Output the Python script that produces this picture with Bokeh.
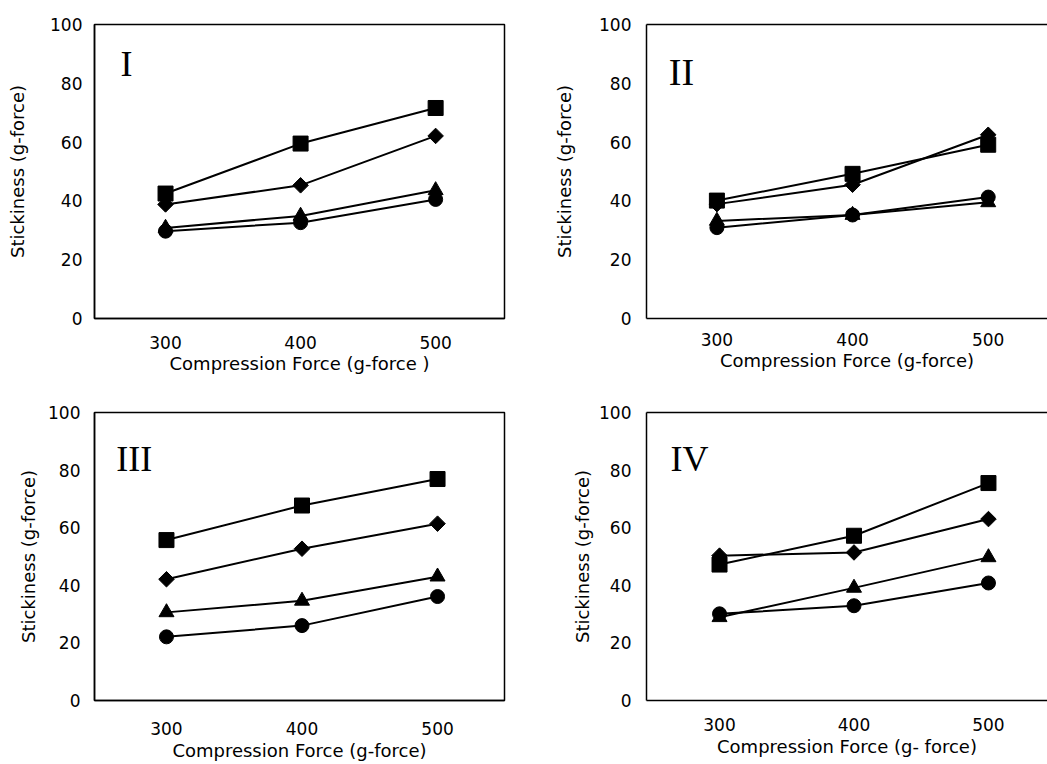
import numpy as np
from bokeh.plotting import figure
from bokeh.layouts import column, row
from bokeh.models import Label, LinearAxis, FixedTicker, Range1d
from bokeh.embed import file_html
from bokeh.resources import INLINE

# ---- data ----
force = [300, 400, 500]
x_ticks = [300, 400, 500]
y_ticks = [0, 20, 40, 60, 80, 100]
panel_names = ["I", "II", "III", "IV"]
x_title = ["Compression Force (g-force )", "Compression Force (g-force)",
           "Compression Force (g-force)", "Compression Force (g- force)"]
y_title = "Stickiness (g-force)"

I_square = [42.5, 59.5, 71.6]
I_diamond = [38.8, 45.3, 62.1]
I_triangle = [30.8, 34.9, 43.6]
I_circle = [29.7, 32.6, 40.5]

II_square = [40.1, 49.2, 59.1]
II_diamond = [38.9, 45.5, 62.5]
II_triangle = [33.2, 35.2, 39.5]
II_circle = [30.9, 35.2, 41.3]

III_square = [55.7, 67.7, 76.9]
III_diamond = [42.1, 52.7, 61.4]
III_triangle = [30.6, 34.6, 43.0]
III_circle = [22.1, 26.0, 36.1]

IV_square = [47.2, 57.2, 75.5]
IV_diamond = [50.3, 51.4, 63.0]
IV_triangle = [28.9, 39.1, 49.7]
IV_circle = [30.1, 32.9, 40.8]

panel_series = [
    [I_circle, I_triangle, I_diamond, I_square],
    [II_circle, II_triangle, II_diamond, II_square],
    [III_circle, III_triangle, III_diamond, III_square],
    [IV_circle, IV_triangle, IV_diamond, IV_square],
]

# ---- layout / style (not data) ----
marker_styles = [
    dict(marker="circle", size=14, angle=0),
    dict(marker="triangle", size=15, angle=0),
    dict(marker="square", size=11, angle=np.pi / 4),
    dict(marker="square", size=15, angle=0),
]

cfg = [
    dict(w=523, h=382, left=94, right=19, top=24, bottom=64, xr=(247.4, 551.0),
         ylab_so=12, ytit_so=19, xlab_so=17, xtit_so=1, lab_size="36px", full=True,
         lab=(266.7, 86.5)),
    dict(w=524, h=382, left=123, right=0, top=24, bottom=64, xr=(248.1, 543.7),
         ylab_so=15, ytit_so=21, xlab_so=14, xtit_so=1, lab_size="38px", full=False,
         lab=(264.5, 84.0)),
    dict(w=523, h=382, left=94, right=19, top=30, bottom=64, xr=(246.9, 549.4),
         ylab_so=14, ytit_so=6, xlab_so=21, xtit_so=2, lab_size="36px", full=True,
         lab=(263.0, 84.0)),
    dict(w=524, h=382, left=123, right=0, top=30, bottom=64, xr=(245.7, 543.9),
         ylab_so=15, ytit_so=3, xlab_so=17, xtit_so=2, lab_size="36px", full=False,
         lab=(263.5, 84.0)),
]


def style_axis(ax):
    ax.major_tick_line_color = None
    ax.minor_tick_line_color = None
    ax.major_tick_out = 0
    ax.major_tick_in = 0
    ax.minor_tick_out = 0
    ax.minor_tick_in = 0
    ax.axis_line_color = "black"
    ax.axis_line_width = 1.5
    ax.major_label_text_font = "DejaVu Sans"
    ax.major_label_text_font_size = "17px"
    ax.major_label_text_color = "black"
    ax.axis_label_text_font = "DejaVu Sans"
    ax.axis_label_text_font_size = "18px"
    ax.axis_label_text_font_style = "normal"
    ax.axis_label_text_color = "black"


figs = []
for i, c in enumerate(cfg):
    p = figure(width=c["w"], height=c["h"], output_backend="svg", toolbar_location=None,
               x_range=Range1d(*c["xr"]), y_range=Range1d(0, 100),
               min_border_left=c["left"], min_border_right=c["right"],
               min_border_top=c["top"], min_border_bottom=c["bottom"])
    p.grid.visible = False
    p.background_fill_color = "white"
    p.border_fill_color = "white"

    xa = p.below[0]
    ya = p.left[0]
    xa.ticker = FixedTicker(ticks=x_ticks)
    ya.ticker = FixedTicker(ticks=y_ticks)
    style_axis(xa)
    style_axis(ya)
    xa.major_label_standoff = c["xlab_so"]
    xa.axis_label_standoff = c["xtit_so"]
    xa.axis_label = x_title[i]
    ya.major_label_standoff = c["ylab_so"]
    ya.axis_label_standoff = c["ytit_so"]
    ya.axis_label = y_title

    if c["full"]:
        p.outline_line_color = "black"
        p.outline_line_width = 1.5
    else:
        p.outline_line_color = None
        top_ax = LinearAxis(ticker=FixedTicker(ticks=[]), axis_line_color="black",
                            axis_line_width=1.5, major_tick_line_color=None,
                            minor_tick_line_color=None, major_tick_out=0, major_tick_in=0,
                            minor_tick_out=0, minor_tick_in=0,
                            major_label_text_color=None, major_label_text_font_size="1px",
                            major_label_standoff=0)
        p.add_layout(top_ax, "above")

    for ser, ms in zip(panel_series[i], marker_styles):
        p.line(force, ser, line_color="black", line_width=2)
        p.scatter(force, ser, marker=ms["marker"], size=ms["size"], angle=ms["angle"],
                  fill_color="black", line_color="black")

    lx, ly = c["lab"]
    p.add_layout(Label(x=lx, y=ly, text=panel_names[i], text_font="Liberation Serif",
                       text_font_size=c["lab_size"], text_color="black",
                       text_align="left", text_baseline="alphabetic"))
    figs.append(p)

layout = column(row(figs[0], figs[1]), row(figs[2], figs[3]))
open("out.html", "w").write(file_html(layout, INLINE))
